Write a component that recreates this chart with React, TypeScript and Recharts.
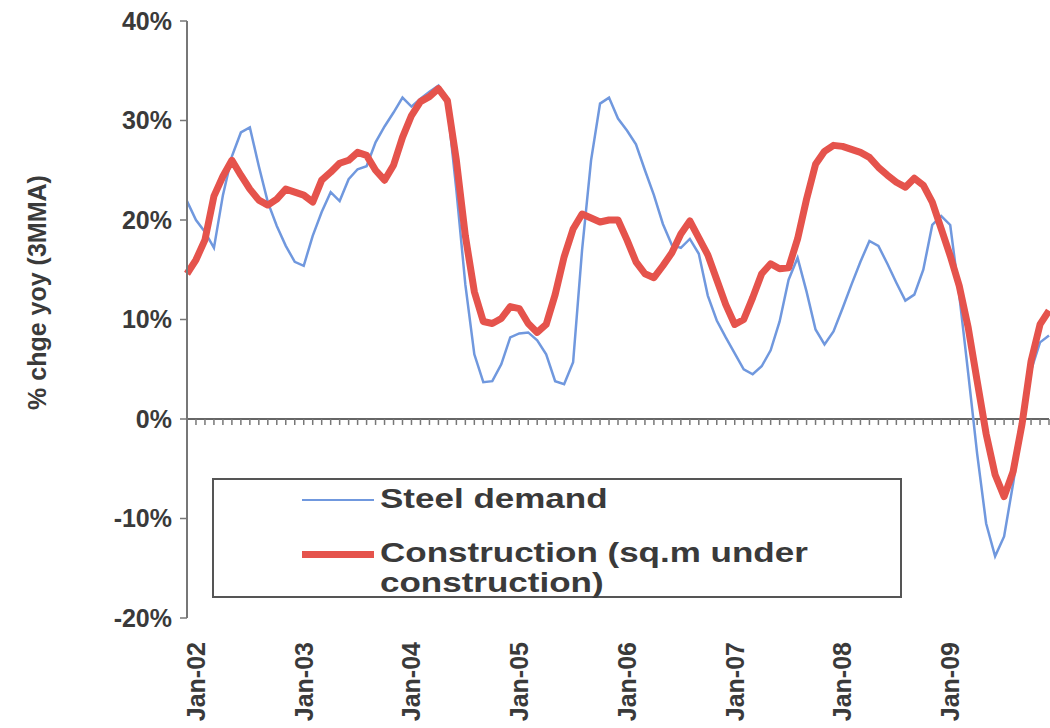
import React from 'react';
import { LineChart, Line, XAxis, YAxis, ReferenceLine, Legend } from 'recharts';

// monthly, Dec-01 .. Dec-09
const monthNames = ['Jan', 'Feb', 'Mar', 'Apr', 'May', 'Jun', 'Jul', 'Aug', 'Sep', 'Oct', 'Nov', 'Dec'];
const years = ['02', '03', '04', '05', '06', '07', '08', '09'];
const months = ['Dec-01', ...years.flatMap((y) => monthNames.map((m) => `${m}-${y}`))];

// % chge yoy (3MMA)
const steelDemand = [
    21.9, 20.0, 18.8, 17.2, 22.5, 26.4, 28.8, 29.3, 25.4, 21.8, 19.4, 17.4, 15.8,
    15.4, 18.4, 20.8, 22.8, 21.9, 24.1, 25.1, 25.4, 27.8, 29.4, 30.8, 32.3,
    31.4, 32.2, 32.9, 33.5, 31.5, 23.0, 13.5, 6.5, 3.7, 3.8, 5.5, 8.2,
    8.6, 8.7, 7.9, 6.5, 3.8, 3.5, 5.7, 17.0, 26.0, 31.7, 32.3, 30.2,
    29.0, 27.6, 25.0, 22.5, 19.6, 17.5, 17.2, 18.1, 16.6, 12.4, 9.9, 8.2,
    6.6, 5.0, 4.5, 5.3, 6.9, 9.8, 14.0, 16.2, 12.8, 9.0, 7.5, 8.8,
    11.1, 13.5, 15.8, 17.9, 17.4, 15.6, 13.7, 11.9, 12.5, 15.0, 19.5, 20.4,
    19.5, 12.5, 4.6, -3.5, -10.5, -13.8, -11.8, -6.5, -0.5, 4.9, 7.7, 8.4,
];

const construction = [
    14.6, 16.0, 18.0, 22.4, 24.4, 26.0, 24.5, 23.1, 22.0, 21.5, 22.1, 23.1, 22.8,
    22.5, 21.8, 24.0, 24.8, 25.7, 26.0, 26.8, 26.5, 25.0, 24.0, 25.5, 28.3,
    30.5, 31.9, 32.4, 33.2, 32.0, 26.0, 18.4, 12.8, 9.8, 9.6, 10.1, 11.3,
    11.1, 9.6, 8.7, 9.5, 12.5, 16.3, 19.1, 20.6, 20.2, 19.8, 20.0, 20.0,
    18.0, 15.8, 14.6, 14.2, 15.4, 16.7, 18.6, 19.9, 18.2, 16.5, 14.0, 11.5,
    9.5, 10.0, 12.2, 14.6, 15.6, 15.1, 15.2, 18.1, 22.1, 25.6, 26.9, 27.5,
    27.4, 27.1, 26.8, 26.3, 25.3, 24.5, 23.8, 23.3, 24.2, 23.5, 21.8, 19.1,
    16.4, 13.4, 9.2, 3.8, -1.5, -5.6, -7.8, -5.3, -0.5, 5.8, 9.5, 10.9,
];

const yTicks = [-20, -10, 0, 10, 20, 30, 40];
const seriesOrder = ['steel', 'construction'];

const data = months.map((month, i) => ({
    month,
    steel: steelDemand[i],
    construction: construction[i],
}));

const FONT = "'Liberation Sans', Arial, sans-serif";
const TEXT = '#3a3a3a';
const BLUE = '#7098de';
const RED = '#e5534c';

const MonthTick = (props: any) => {
    const { x, y, payload } = props;
    if (!String(payload.value).startsWith('Jan')) return <g />;
    return (
        <g transform={`translate(${x},${y + 24}) rotate(-90)`}>
            <text
                x={0}
                y={0}
                dy="0.36em"
                textAnchor="end"
                fontFamily={FONT}
                fontWeight="bold"
                fontSize={25}
                fill={TEXT}
            >
                {payload.value}
            </text>
        </g>
    );
};

const AxisTitle = (props: any) => {
    const { viewBox } = props;
    const x = viewBox.x + 37;
    const y = viewBox.y + viewBox.height / 2 - 27;
    return (
        <text
            x={x}
            y={y}
            dy="0.36em"
            transform={`rotate(-90 ${x} ${y})`}
            textAnchor="middle"
            fontFamily={FONT}
            fontWeight="bold"
            fontSize={25}
            fill={TEXT}
        >
            % chge yoy (3MMA)
        </text>
    );
};

const LegendBox = (props: any) => {
    const { payload = [] } = props;
    const rows = [20, 74];
    const items = [...payload].sort(
        (a: any, b: any) => seriesOrder.indexOf(a.dataKey) - seriesOrder.indexOf(b.dataKey)
    );
    return (
        <div
            style={{
                position: 'relative',
                width: 690,
                height: 120,
                boxSizing: 'border-box',
                border: '2px solid #555',
                background: '#fff',
                fontFamily: FONT,
                fontWeight: 'bold',
                fontSize: 28,
                color: TEXT,
            }}
        >
            {items.map((entry: any, i: number) => (
                <div key={entry.value} style={{ position: 'absolute', left: 88, top: rows[i] - 16 }}>
                    <div
                        style={{
                            position: 'absolute',
                            left: 0,
                            top: 16 - (i === 0 ? 1 : 3.5),
                            width: 72,
                            height: i === 0 ? 2 : 7,
                            background: entry.color,
                        }}
                    />
                    <div
                        style={{
                            position: 'absolute',
                            left: 78,
                            top: 0,
                            width: 370,
                            lineHeight: '30px',
                            transform: 'scaleX(1.25)',
                            transformOrigin: 'left top',
                        }}
                    >
                        {entry.value}
                    </div>
                </div>
            ))}
        </div>
    );
};

export default function App() {
    return (
        <div style={{ position: 'absolute', left: 0, top: 0, background: '#fff' }}>
            <LineChart
                width={1050}
                height={728}
                data={data}
                margin={{ top: 21, right: 1, bottom: 0, left: 0 }}
            >
                <XAxis
                    dataKey="month"
                    interval={0}
                    axisLine={false}
                    tickLine={false}
                    tickSize={0}
                    tickMargin={0}
                    height={110}
                    tick={MonthTick}
                />
                <YAxis
                    domain={[-20, 40]}
                    ticks={yTicks}
                    width={187}
                    allowDataOverflow
                    tickFormatter={(v: number) => `${v}%`}
                    axisLine={{ stroke: '#777', strokeWidth: 2 }}
                    tickLine={{ stroke: '#777', strokeWidth: 1.5 }}
                    tickSize={7}
                    tickMargin={8}
                    tick={{ fontFamily: FONT, fontWeight: 'bold', fontSize: 25, fill: TEXT }}
                    label={<AxisTitle />}
                />
                <ReferenceLine y={0} stroke="#666" strokeWidth={2} />
                {months.map((m) => (
                    <ReferenceLine
                        key={m}
                        segment={[
                            { x: m, y: 0 },
                            { x: m, y: -0.6 },
                        ]}
                        stroke="#777"
                        strokeWidth={1.5}
                    />
                ))}
                <Legend
                    layout="vertical"
                    align="center"
                    verticalAlign="middle"
                    wrapperStyle={{ left: 212, top: 478, width: 690 }}
                    content={<LegendBox />}
                />
                <Line
                    type="linear"
                    dataKey="steel"
                    name="Steel demand"
                    stroke={BLUE}
                    strokeWidth={2.5}
                    dot={false}
                    isAnimationActive={false}
                />
                <Line
                    type="linear"
                    dataKey="construction"
                    name="Construction (sq.m under construction)"
                    stroke={RED}
                    strokeWidth={7}
                    strokeLinejoin="round"
                    dot={false}
                    isAnimationActive={false}
                />
            </LineChart>
        </div>
    );
}
